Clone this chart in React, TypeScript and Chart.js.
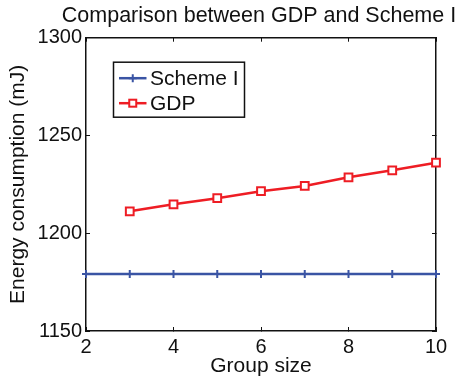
import React, { useEffect, useRef } from 'react';
import { Chart, registerables } from 'chart.js';

Chart.register(...registerables);

const FONT = "'Liberation Sans', Arial, Helvetica, sans-serif";

const titleText = 'Comparison between GDP and Scheme I';
const xTitle = 'Group size';
const yTitle = 'Energy consumption (mJ)';

const schemeSizes = [2, 3, 4, 5, 6, 7, 8, 9, 10];
const schemeValues = [1179.2, 1179.2, 1179.2, 1179.2, 1179.2, 1179.2, 1179.2, 1179.2, 1179.2];
const gdpSizes = [3, 4, 5, 6, 7, 8, 9, 10];
const gdpValues = [1211.2, 1214.8, 1217.9, 1221.5, 1224.2, 1228.6, 1232.2, 1236.1];

const xMin = 2;
const xMax = 10;
const xStep = 2;
const yMin = 1150;
const yMax = 1300;
const yStep = 50;

const BLUE = '#3A54A4';
const RED = '#EE1D24';

const titlePlugin = {
  id: 'centeredTitle',
  afterDraw(chart: any) {
    const { ctx, chartArea } = chart;
    ctx.save();
    ctx.fillStyle = '#111';
    ctx.font = `21.5px ${FONT}`;
    ctx.textAlign = 'center';
    ctx.textBaseline = 'alphabetic';
    ctx.fillText(titleText, (chartArea.left + chartArea.right) / 2 - 2, chartArea.top - 15.5);
    ctx.restore();
  },
};

const legendPlugin = {
  id: 'matlabLegend',
  afterDraw(chart: any) {
    const { ctx, chartArea } = chart;
    const left = chartArea.left + 27.5;
    const top = chartArea.top + 24.5;
    const w = 131;
    const h = 55;
    ctx.save();
    ctx.fillStyle = '#ffffff';
    ctx.fillRect(left, top, w, h);
    ctx.strokeStyle = '#111';
    ctx.lineWidth = 1.5;
    ctx.strokeRect(left, top, w, h);
    chart.data.datasets.forEach((ds: any, i: number) => {
      const cy = top + 16 + i * 25;
      const x1 = left + 5.5;
      const x2 = left + 33;
      const cx = (x1 + x2) / 2;
      ctx.strokeStyle = ds.borderColor;
      ctx.lineWidth = 2.5;
      ctx.beginPath();
      ctx.moveTo(x1, cy);
      ctx.lineTo(x2, cy);
      ctx.stroke();
      ctx.lineWidth = 2;
      if (ds.pointStyle === 'cross') {
        ctx.beginPath();
        ctx.moveTo(cx, cy - 4);
        ctx.lineTo(cx, cy + 4);
        ctx.moveTo(cx - 4, cy);
        ctx.lineTo(cx + 4, cy);
        ctx.stroke();
      } else {
        ctx.fillStyle = '#fff';
        ctx.fillRect(cx - 3.5, cy - 3.5, 7, 7);
        ctx.strokeRect(cx - 3.5, cy - 3.5, 7, 7);
      }
      ctx.fillStyle = '#111';
      ctx.font = `21px ${FONT}`;
      ctx.textAlign = 'left';
      ctx.textBaseline = 'middle';
      ctx.fillText(ds.label, left + 36.5, cy + 1);
    });
    ctx.restore();
  },
};

export default function App() {
  const canvasRef = useRef<HTMLCanvasElement | null>(null);

  useEffect(() => {
    document.body.style.margin = '0';
    const canvas = canvasRef.current;
    if (!canvas) return;

    const tickFont = { family: FONT, size: 20 };
    const titleFont = { family: FONT, size: 21 };
    const plain = (v: any) => String(v);

    const chart = new Chart(canvas, {
      type: 'line',
      data: {
        datasets: [
          {
            label: 'Scheme I',
            data: schemeSizes.map((x, i) => ({ x, y: schemeValues[i] })),
            borderColor: BLUE,
            backgroundColor: BLUE,
            borderWidth: 2.5,
            pointStyle: 'cross',
            pointRadius: 4,
            pointBorderWidth: 2,
            pointBorderColor: BLUE,
            clip: false,
            tension: 0,
          },
          {
            label: 'GDP',
            data: gdpSizes.map((x, i) => ({ x, y: gdpValues[i] })),
            borderColor: RED,
            backgroundColor: '#ffffff',
            borderWidth: 2.5,
            pointStyle: 'rect',
            pointRadius: 5.5,
            pointBorderWidth: 2,
            pointBorderColor: RED,
            pointBackgroundColor: '#ffffff',
            clip: false,
            tension: 0,
          },
        ],
      },
      options: {
        responsive: false,
        animation: false,
        devicePixelRatio: 1,
        events: [],
        layout: { padding: { top: 37.7, right: 21, bottom: 0, left: 0 } },
        plugins: {
          legend: { display: false },
          tooltip: { enabled: false },
          title: { display: false },
        },
        scales: {
          x: {
            type: 'linear',
            position: 'bottom',
            min: xMin,
            max: xMax,
            ticks: { stepSize: xStep, font: tickFont, color: '#111', padding: 8, maxRotation: 0, callback: plain },
            grid: { drawOnChartArea: false, tickLength: -4, color: '#111', lineWidth: 1 },
            border: { display: true, color: '#111', width: 1.5 },
            title: { display: true, text: xTitle, font: titleFont, color: '#111', padding: { top: 0, bottom: 2 } },
            afterFit: (scale: any) => {
              scale.height = 50;
            },
          },
          x2: {
            type: 'linear',
            position: 'top',
            min: xMin,
            max: xMax,
            ticks: { display: false, stepSize: xStep },
            grid: { drawOnChartArea: false, tickLength: -4, color: '#111', lineWidth: 1 },
            border: { display: true, color: '#111', width: 1.5 },
            afterFit: (scale: any) => {
              scale.height = 0;
            },
          },
          y: {
            type: 'linear',
            position: 'left',
            min: yMin,
            max: yMax,
            ticks: { stepSize: yStep, font: tickFont, color: '#111', padding: 8, callback: plain },
            grid: { drawOnChartArea: false, tickLength: -4, color: '#111', lineWidth: 1 },
            border: { display: true, color: '#111', width: 1.5 },
            title: { display: true, text: yTitle, font: titleFont, color: '#111', padding: { top: 6, bottom: 0 } },
            afterFit: (scale: any) => {
              scale.width = 86;
            },
          },
          y2: {
            type: 'linear',
            position: 'right',
            min: yMin,
            max: yMax,
            ticks: { display: false, stepSize: yStep },
            grid: { drawOnChartArea: false, tickLength: -4, color: '#111', lineWidth: 1 },
            border: { display: true, color: '#111', width: 1.5 },
            afterFit: (scale: any) => {
              scale.width = 0;
            },
          },
        },
      },
      plugins: [titlePlugin, legendPlugin],
    } as any);

    return () => {
      chart.destroy();
    };
  }, []);

  return (
    <div style={{ position: 'absolute', left: 0, top: 0, width: 457, height: 381, background: '#fff' }}>
      <canvas ref={canvasRef} width={457} height={381} style={{ width: 457, height: 381, display: 'block' }} />
    </div>
  );
}
